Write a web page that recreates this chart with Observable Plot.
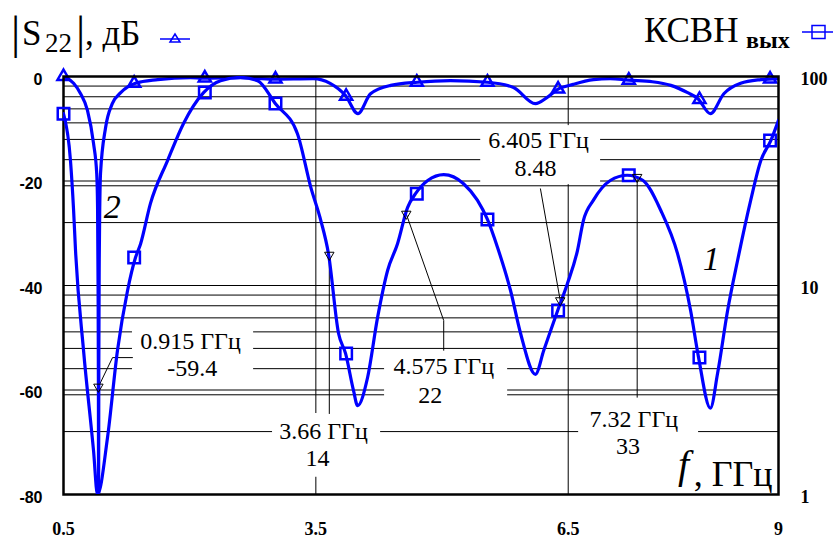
<!DOCTYPE html>
<html><head><meta charset="utf-8">
<script src="https://cdn.jsdelivr.net/npm/d3@7"></script>
<script src="https://cdn.jsdelivr.net/npm/@observablehq/plot@0.6"></script>
<style>
html,body{margin:0;padding:0;background:#fff;}
#chart{position:relative;width:834px;height:539px;overflow:hidden;background:#fff;}
#chart svg{position:absolute;left:0;top:0;}
#chart .serif text, #chart text.serif{font-family:'Liberation Serif','DejaVu Serif',serif !important;}
</style></head><body>
<div id="chart"></div>
<script>
// ---------- data ----------
const s22Freq = [0.5,0.62,0.70,0.785,0.857,0.895,0.905,0.911,0.915,0.917,0.920,0.925,0.932,0.94,1.0,1.08,1.18,1.356,1.62,2.01,2.16,2.6,2.99,3.47,3.67,3.85,4.0,4.15,4.39,4.71,5.1,5.54,5.85,6.11,6.25,6.37,6.56,6.8,7.0,7.22,7.5,7.72,7.92,8.04,8.19,8.35,8.55,8.79,9.0];
const s22Db   = [0,-1.3,-3.2,-6.5,-12.8,-18.6,-25,-40,-59.4,-82,-55,-35,-24,-18.6,-9.8,-5.2,-3.1,-1.3,-0.6,-0.2,-0.3,-0.2,-0.5,-0.4,-1.3,-3.6,-7.1,-3.3,-1.7,-1.1,-0.8,-1.1,-2.1,-5.2,-4.0,-2.5,-1.5,-0.6,-0.4,-0.7,-1.0,-1.7,-3.1,-4.2,-7.1,-3.3,-1.3,-0.6,-0.4];

const vswrFreq  = [0.5,0.583,0.62,0.643,0.738,0.857,0.904,1.023,1.142,1.261,1.356,1.416,1.534,1.737,1.927,2.165,2.367,2.605,2.807,3.02,3.28,3.44,3.56,3.65,3.77,3.853,3.948,3.996,4.115,4.234,4.353,4.47,4.59,4.685,4.83,5.02,5.256,5.42,5.54,5.66,5.815,5.934,6.11,6.21,6.375,6.49,6.61,6.68,6.8,7.0,7.2,7.39,7.6,7.8,7.955,8.05,8.19,8.276,8.395,8.514,8.67,8.79,8.91,9.0];
const vswrValue = [66.4,39.6,22.9,14.7,4.9,1.62,1.0,1.87,4.9,9.44,13.6,15.8,24.7,39.6,59.6,83.7,95.5,98.9,95.5,74.1,53.4,29.5,20.4,14.2,5.89,4.73,3.14,2.66,3.63,7.04,11.8,15.8,23.6,27.5,31.8,33.9,30.7,25.6,20.7,15.2,9.44,5.89,3.76,4.9,7.59,10.2,14.7,20.4,25.6,31.8,33.7,31.8,22.9,14.2,7.59,4.52,2.59,3.80,7.59,13.2,25.6,39.6,49.5,61.7];

const markerFreq  = [0.5,1.34,2.18,3.02,3.86,4.7,5.54,6.38,7.22,8.06,8.9];
const s22MarkerDb = [0,-1.3,-0.3,-0.5,-3.8,-1.1,-1.1,-2.4,-0.7,-4.4,-0.5];
const vswrMarker  = [66.4,13.6,83.8,74.3,4.73,27.5,20.7,7.6,33.7,4.52,49.4];

const dbTicks   = [0,-20,-40,-60,-80];
const vswrTicks = [1,10,100];
const vswrGrid  = [2,3,4,5,6,7,8,9,20,30,40,50,60,70,80,90];
const freqTicks = [0.5,3.5,6.5,9];
const freqGrid  = [3.5,6.5];

const annotFreq  = [0.915,3.66,4.575,6.405,7.32];
const annotValue = [-59.4,14,22,8.48,33];
const annotUnit  = "ГГц";

// ---------- layout of annotation boxes (positions only) ----------
const annotLayout = [
  {box:[1.32,2.76,-47.1,-59.8], t1:[2.01,-52.1], t2:[2.03,-57.4]},
  {box:[2.985,4.27,-64.5,-76.7], t1:[3.59,-69.3], t2:[3.52,-74.6]},
  {box:[4.317,5.78,-52.6,-63.9], t1:[5.02,-57.0], t2:[4.86,-62.4]},
  {box:[5.46,6.885,-9.4,-20.7], t1:[6.148,-13.6], t2:[6.11,-19.1]},
  {box:[6.624,8.05,-62.0,-76.9], t1:[7.28,-67.1], t2:[7.21,-72.3]}
];
const leaderDbBends = [[1.083,-53.8],[1.32,-53.8]];
const leaderVBends = [
  [[3.66,2.44]],
  [[5.02,6.8],[5.02,4.9]],
  [[6.17,29]],
  [[7.32,2.92]]
];

// ---------- build tables ----------
const s22 = s22Freq.map((f,i)=>({f, db:s22Db[i]}));
const vswr = vswrFreq.map((f,i)=>({f, v:vswrValue[i]}));
const s22M = markerFreq.map((f,i)=>({f, db:s22MarkerDb[i]}));
const vswrM = markerFreq.map((f,i)=>({f, v:vswrMarker[i]}));
const boxes = annotLayout.map(a=>({x1:a.box[0],x2:a.box[1],y1:a.box[2],y2:a.box[3]}));
const labels = [];
annotLayout.forEach((a,i)=>{
  labels.push({x:a.t1[0], y:a.t1[1], text:`${annotFreq[i]} ${annotUnit}`});
  labels.push({x:a.t2[0], y:a.t2[1], text:String(annotValue[i])});
});
const leaderDb = [{x:annotFreq[0], y:annotValue[0]}, ...leaderDbBends.map(p=>({x:p[0],y:p[1]}))];
const leaderV = [];
leaderVBends.forEach((bends,k)=>{
  const i = k+1;
  leaderV.push({id:i, x:annotFreq[i], y:annotValue[i]});
  bends.forEach(p=>leaderV.push({id:i, x:p[0], y:p[1]}));
});
const annotV = annotFreq.slice(1).map((f,k)=>({f, v:annotValue[k+1]}));

const BLUE = "#0000ff";
const SERIF = "Liberation Serif";
const SANS = "Liberation Sans";
const common = {width:834, height:539, marginLeft:63, marginRight:56, marginTop:76, marginBottom:45,
  style:{background:"transparent", overflow:"visible"}};

// layer 1: log grid + right axis
const p1 = Plot.plot({...common,
  x:{domain:[0.5,9], axis:null},
  y:{type:"log", domain:[1,100]},
  marks:[
    Plot.ruleY(vswrGrid, {stroke:"#000", strokeWidth:1}),
    Plot.axisY(vswrTicks, {anchor:"right", tickSize:0, tickPadding:22, dy:3, label:null,
      tickFormat:d=>String(d), fontFamily:SERIF, fontSize:18, fontWeight:"bold", fill:"#000", className:"serif"})
  ]});

// layer 2: dB scale
const p2 = Plot.plot({...common,
  x:{domain:[0.5,9]},
  y:{domain:[-80,0]},
  marks:[
    Plot.ruleY(dbTicks, {stroke:"#000", strokeWidth:1}),
    Plot.ruleX(freqGrid, {stroke:"#000", strokeWidth:1}),
    Plot.rect(boxes, {x1:"x1", x2:"x2", y1:"y1", y2:"y2", fill:"white"}),
    Plot.line(leaderDb, {x:"x", y:"y", stroke:"#000", strokeWidth:1}),
    Plot.text(labels, {x:"x", y:"y", text:"text", fontFamily:SERIF, fontSize:24, lineAnchor:"bottom", fill:"#000", className:"serif"}),
    Plot.line(s22, {x:"f", y:"db", stroke:BLUE, strokeWidth:3.2, curve:"monotone-x", clip:true}),
    Plot.dot(s22M, {x:"f", y:"db", symbol:"triangle", r:4.5, stroke:BLUE, strokeWidth:2.5, fill:"none"}),
    Plot.dot([{f:annotFreq[0], db:annotValue[0]}], {x:"f", y:"db", symbol:"triangle", rotate:180, r:3.5, stroke:"#000", strokeWidth:1, fill:"none"}),
    Plot.text(["2"], {x:1.08, y:-27, fontFamily:SERIF, fontStyle:"italic", fontSize:34, lineAnchor:"bottom", fill:"#000", className:"serif"}),
    Plot.text(["1"], {x:8.2, y:-37.1, fontFamily:SERIF, fontStyle:"italic", fontSize:34, lineAnchor:"bottom", fill:"#000", className:"serif"}),
    Plot.text(["f"], {x:7.87, y:-76.8, fontFamily:SERIF, fontStyle:"italic", fontSize:40, lineAnchor:"bottom", fill:"#000", className:"serif"}),
    Plot.text([", ГГц"], {x:8.93, y:-78.3, fontFamily:SERIF, fontSize:36, textAnchor:"end", lineAnchor:"bottom", fill:"#000", className:"serif"}),
    Plot.frame({stroke:"#000", strokeWidth:2.5}),
    Plot.axisY(dbTicks, {anchor:"left", tickSize:0, tickPadding:21, dy:3, label:null,
      tickFormat:d=>String(d), fontFamily:SANS, fontSize:16, fontWeight:"bold", fill:"#000"}),
    Plot.axisX(freqTicks, {anchor:"bottom", tickSize:0, tickPadding:28, label:null,
      tickFormat:d=>String(d), fontFamily:SERIF, fontSize:18, fontWeight:"bold", fill:"#000", className:"serif"})
  ]});

// layer 3: VSWR curve
const p3 = Plot.plot({...common,
  x:{domain:[0.5,9], axis:null},
  y:{type:"log", domain:[1,100], axis:null},
  marks:[
    Plot.line(leaderV, {x:"x", y:"y", z:"id", stroke:"#000", strokeWidth:1}),
    Plot.line(vswr, {x:"f", y:"v", stroke:BLUE, strokeWidth:3.2, curve:"monotone-x", clip:true}),
    Plot.dot(vswrM, {x:"f", y:"v", symbol:"square", r:6.5, stroke:BLUE, strokeWidth:2.5, fill:"none"}),
    Plot.dot(annotV, {x:"f", y:"v", symbol:"triangle", rotate:180, r:3.5, stroke:"#000", strokeWidth:1, fill:"none"})
  ]});

const chart = document.getElementById("chart");
chart.append(p1, p2, p3);

// titles / legends
const t = d3.select(chart).append("svg").attr("width",834).attr("height",539)
  .style("pointer-events","none");
const tx = (x,y,s,size,opts={}) => t.append("text").attr("x",x).attr("y",y).text(s)
  .attr("font-family",SERIF).attr("font-size",size)
  .attr("font-weight",opts.bold?"bold":"normal").attr("fill","#000");
tx(11,48,"|",46);
tx(22,45,"S",35);
tx(45,52,"22",27);
tx(76,48,"|",46);
tx(85,45,", дБ",35);
t.append("line").attr("x1",160).attr("x2",190).attr("y1",39).attr("y2",39).attr("stroke",BLUE).attr("stroke-width",1.5);
t.append("path").attr("d","M170,42L175,34L180,42Z").attr("fill","none").attr("stroke",BLUE).attr("stroke-width",1.5);
tx(644,42,"КСВН",35);
tx(746,48,"вых",24,{bold:true});
t.append("line").attr("x1",802).attr("x2",833).attr("y1",32).attr("y2",32).attr("stroke",BLUE).attr("stroke-width",1.5);
t.append("rect").attr("x",812).attr("y",25.5).attr("width",13).attr("height",13).attr("fill","none").attr("stroke",BLUE).attr("stroke-width",1.5);
</script></body></html>
